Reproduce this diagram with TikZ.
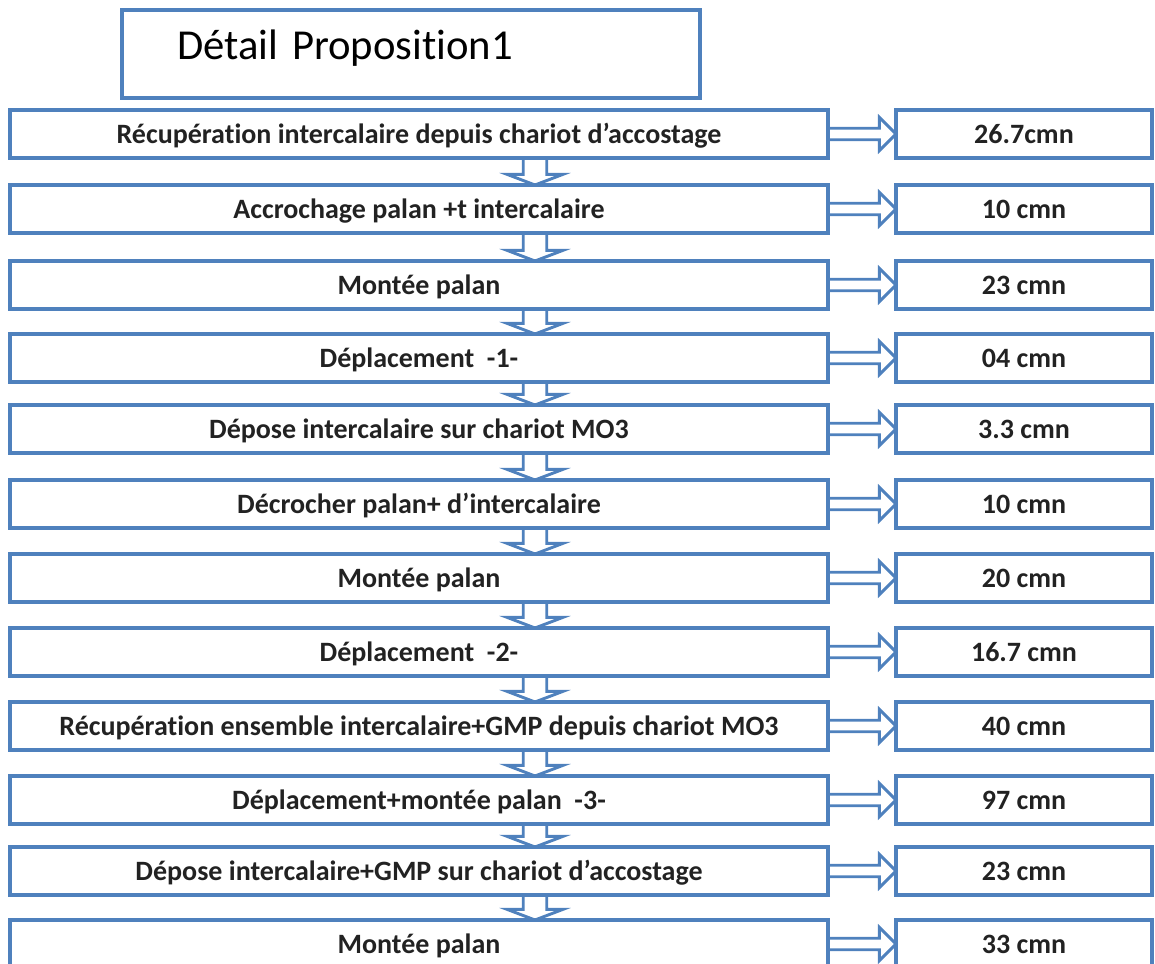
\documentclass[tikz,border=0pt]{standalone}
\usepackage{fontspec}
\setmainfont{Carlito}[RawFeature=-liga]
\usetikzlibrary{calc}
\definecolor{boxblue}{RGB}{79,129,189}
\definecolor{txtgray}{RGB}{34,34,34}
\tikzset{
  box/.style={draw=boxblue, line width=3pt, rectangle, inner sep=0pt, outer sep=0pt,
    text=txtgray, text height=13.5pt, text depth=0pt,
    font=\bfseries\fontsize{21}{23}\selectfont},
  stepbox/.style={box, minimum width=613.5pt, minimum height=36pt},
  timebox/.style={box, minimum width=192pt, minimum height=36pt},
  titlebox/.style={draw=boxblue, line width=3pt, rectangle, outer sep=0pt,
    minimum width=433.5pt, minimum height=66pt, text width=351pt, inner xsep=41pt,
    align=left, text height=22pt, text depth=13pt, text=black,
    font=\fontsize{32}{35}\selectfont},
  harrow/.style={draw=boxblue, line width=2.2pt, to path={
    let \p1=(\tikztostart), \p2=(\tikztotarget) in
    (\x1,\y1+4.3pt) -- (\x2-12.5pt,\y1+4.3pt) -- (\x2-12.5pt,\y1+12.5pt) -- (\x2,\y1)
    -- (\x2-12.5pt,\y1-12.5pt) -- (\x2-12.5pt,\y1-4.3pt) -- (\x1,\y1-4.3pt)}},
  varrow/.style={draw=boxblue, line width=2.2pt, to path={
    let \p1=(\tikztostart), \p2=(\tikztotarget) in
    (\x1+8.8pt,\y1) -- (\x1+8.8pt,\y2+8pt) -- (\x1+21pt,\y2+8pt) -- (\x1,\y2)
    -- (\x1-21pt,\y2+8pt) -- (\x1-8.8pt,\y2+8pt) -- (\x1-8.8pt,\y1)}}
}
\begin{document}
\begin{tikzpicture}[x=0.75pt, y=-0.75pt]
  \useasboundingbox (0,0) rectangle (1155,963);
  \clip (0,0) rectangle (1155,963);
  \node[titlebox] (title) at (411,54) {Détail Proposition1};
  % étapes et durées
  \foreach \i/\yc/\txt/\tm in {
      1/134/{Récupération intercalaire depuis chariot d’accostage}/{26.7cmn},
      2/209/{Accrochage palan +t intercalaire}/{10 cmn},
      3/285/{Montée palan}/{23 cmn},
      4/358/{Déplacement~ -1-}/{04 cmn},
      5/429/{Dépose intercalaire sur chariot MO3}/{3.3 cmn},
      6/504/{Décrocher palan+ d’intercalaire}/{10 cmn},
      7/578/{Montée palan}/{20 cmn},
      8/652/{Déplacement~ -2-}/{16.7 cmn},
      9/726/{Récupération ensemble intercalaire+GMP depuis chariot MO3}/{40 cmn},
      10/800/{Déplacement+montée palan~ -3-}/{97 cmn},
      11/871/{Dépose intercalaire+GMP sur chariot d’accostage}/{23 cmn},
      12/944/{Montée palan}/{33 cmn}}{
    \node[stepbox] (step\i) at (419,\yc) {\txt};
    \node[timebox] (time\i) at (1024,\yc) {\tm};
    \draw[harrow] (step\i.east) to (time\i.west);
  }
  \coordinate (vx) at (535,0);
  \foreach \i [evaluate=\i as \j using int(\i+1)] in {1,...,11}
    \draw[varrow] (vx |- step\i.south) to (vx |- step\j.north);
\end{tikzpicture}
\end{document}
